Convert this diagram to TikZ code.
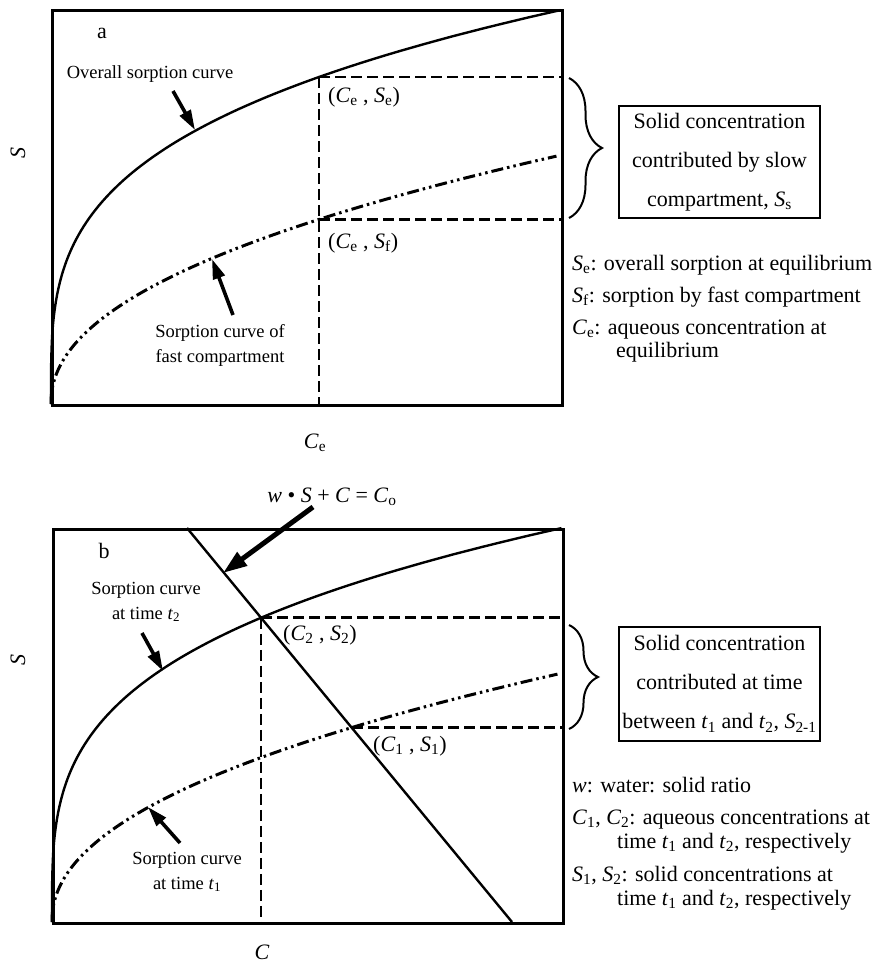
\documentclass[tikz,border=0pt]{standalone}
\usepackage{fontspec}
\setmainfont{Liberation Serif}
\usetikzlibrary{positioning,calc,arrows.meta,decorations.pathreplacing}

\begin{document}
\begin{tikzpicture}[x=1pt,y=-1pt,
    frame/.style={draw,line width=2.6pt,minimum width=510pt,anchor=north west,inner sep=0pt},
    sorption/.style={line width=2.4pt},
    fastsorption/.style={line width=3pt,dash pattern=on 12pt off 4pt on 2.5pt off 4pt on 2.5pt off 4pt},
    guide/.style={line width=2.8pt,dash pattern=on 11pt off 5pt},
    pointer/.style={line width=3.6pt,-{Triangle[length=20pt,width=12pt]}},
    bigpointer/.style={line width=5pt,-{Triangle[length=24pt,width=16pt]}},
    bracket/.style={line width=2pt,decorate,decoration={brace,amplitude=#1}},
    lab/.style={inner sep=0pt,font=\fontsize{18.5}{25}\selectfont,align=center},
    big/.style={inner sep=0pt,font=\fontsize{22}{23}\selectfont},
    legend/.style={big,anchor=base west},
    infobox/.style={draw,line width=1.3pt,minimum width=201pt,align=center,font=\fontsize{22}{39}\selectfont}]

  \useasboundingbox (0,0) rectangle (875,963);

  % panel a
  \node[frame,minimum height=395pt] (plotA) at (51,9) {};
  \coordinate (oa) at (51,404);
  \draw[sorption] (oa) -- plot[domain=0.03:1,samples=90] ({51+510*\x^3},{404-394*\x^0.87});
  \draw[fastsorption] (oa) -- plot[domain=0.03:1,samples=90] ({51+506*\x^3},{404-248*\x^1.395});
  \coordinate (Se) at (319,77);
  \coordinate (Sf) at (319,219.5);
  \draw[guide] (Se) -- (Se -| plotA.east);
  \draw[guide] (Sf) -- (Sf -| plotA.east);
  \draw[guide] (Se) -- (Se |- plotA.south);

  \node[big] (tagA) at (102,33) {a};
  \node[lab] (overall) at (150,74) {Overall sorption curve};
  \coordinate (overallTail) at (173,91);
  \coordinate (overallTip) at (195,130);
  \draw[pointer] (overallTail) -- (overallTip);
  \node[lab] (fast) at (220,345) {Sorption curve of\\fast compartment};
  \coordinate (fastTail) at (233,315);
  \coordinate (fastTip) at (212,259);
  \draw[pointer] (fastTail) -- (fastTip);
  \node[big,anchor=west] (SeLab) at (328,97) {(\textit{C}\textsubscript{e} , \textit{S}\textsubscript{e})};
  \node[big,anchor=west] (SfLab) at (328,243) {(\textit{C}\textsubscript{e} , \textit{S}\textsubscript{f})};
  \node[big] (axCa) at (315,443) {\textit{C}\textsubscript{e}};
  \node[big,rotate=90] (axSa) at (18,153) {\textit{S}};

  \draw[bracket=33pt] (569,78) -- (569,218);
  \node[infobox,minimum height=112pt] (slowBox) at (719.5,162)
    {Solid concentration\\contributed by slow\\compartment, \textit{S}\textsubscript{s}};
  \node[legend] (legA1) at (572,270) {\textit{S}\textsubscript{e}: overall sorption at equilibrium};
  \node[legend] (legA2) at (572,302) {\textit{S}\textsubscript{f}: sorption by fast compartment};
  \node[legend] (legA3) at (572,334) {\textit{C}\textsubscript{e}: aqueous concentration at};
  \node[legend] (legA4) at ($(legA3.base west)+(44,23)$) {equilibrium};

  % panel b
  \node[frame,minimum height=394pt] (plotB) at (52,528) {};
  \coordinate (ob) at (52,922);
  \draw[sorption] (ob) -- plot[domain=0.03:1,samples=90] ({52+510*\x^3},{922-394*\x^0.87});
  \draw[fastsorption] (ob) -- plot[domain=0.03:1,samples=90] ({52+506*\x^3},{922-248*\x^1.395});
  \coordinate (S2) at (261,617.8);
  \coordinate (S1) at (352,727.5);
  \coordinate (wTop) at (187,528);
  \coordinate (wBot) at (512,922);
  \draw[sorption] (wTop) -- (wBot);
  \draw[guide] (S2) -- (S2 -| plotB.east);
  \draw[guide] (S1) -- (S1 -| plotB.east);
  \draw[guide] (S2) -- (S2 |- plotB.south);

  \node[big] (tagB) at (104,551) {b};
  \node[lab] (timeTwo) at (146,602) {Sorption curve\\at time \textit{t}\textsubscript{2}};
  \coordinate (timeTwoTail) at (142,633);
  \coordinate (timeTwoTip) at (163,671);
  \draw[pointer] (timeTwoTail) -- (timeTwoTip);
  \node[lab] (timeOne) at (187,872) {Sorption curve\\at time \textit{t}\textsubscript{1}};
  \coordinate (timeOneTail) at (180,843);
  \coordinate (timeOneTip) at (148,807);
  \draw[pointer] (timeOneTail) -- (timeOneTip);
  \node[big] (balance) at (332,497) {\textit{w} • \textit{S} + \textit{C} = \textit{C}\textsubscript{o}};
  \coordinate (balanceTail) at (313,507);
  \coordinate (balanceTip) at (223,573);
  \draw[bigpointer] (balanceTail) -- (balanceTip);
  \node[big,anchor=west] (S2Lab) at (283,635) {(\textit{C}\textsubscript{2} , \textit{S}\textsubscript{2})};
  \node[big,anchor=west] (S1Lab) at (373,746) {(\textit{C}\textsubscript{1} , \textit{S}\textsubscript{1})};
  \node[big] (axCb) at (262,952) {\textit{C}};
  \node[big,rotate=90] (axSb) at (18,660) {\textit{S}};

  \draw[bracket=29pt] (569,625) -- (569,729);
  \node[infobox,minimum height=114pt] (stepBox) at (719.5,684)
    {Solid concentration\\contributed at time\\between \textit{t}\textsubscript{1} and \textit{t}\textsubscript{2}, \textit{S}\textsubscript{2-1}};
  \node[legend] (legB1) at (572,792) {\textit{w}: water: solid ratio};
  \node[legend] (legB2) at (572,824) {\textit{C}\textsubscript{1}, \textit{C}\textsubscript{2}: aqueous concentrations at};
  \node[legend] (legB3) at ($(legB2.base west)+(45,24)$) {time \textit{t}\textsubscript{1} and \textit{t}\textsubscript{2}, respectively};
  \node[legend] (legB4) at (572,881) {\textit{S}\textsubscript{1}, \textit{S}\textsubscript{2}: solid concentrations at};
  \node[legend] (legB5) at ($(legB4.base west)+(45,24)$) {time \textit{t}\textsubscript{1} and \textit{t}\textsubscript{2}, respectively};
\end{tikzpicture}
\end{document}
